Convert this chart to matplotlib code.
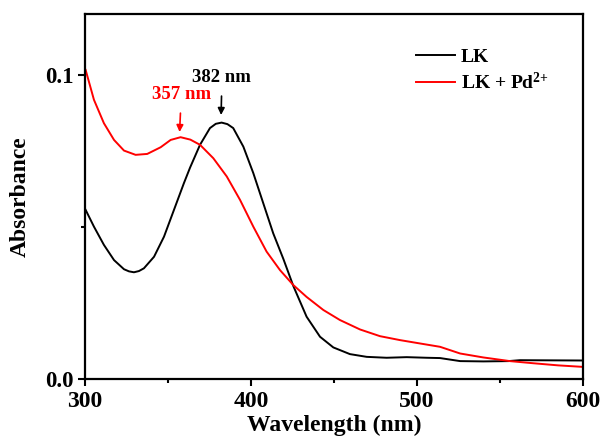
import numpy as np
import matplotlib
matplotlib.use("Agg")
import matplotlib.pyplot as plt

plt.rcParams['font.family'] = 'Liberation Serif'
plt.rcParams['font.weight'] = 'bold'
plt.rcParams['mathtext.fontset'] = 'custom'
plt.rcParams['mathtext.rm'] = 'Liberation Serif:bold'
plt.rcParams['mathtext.it'] = 'Liberation Serif:bold'
plt.rcParams['mathtext.bf'] = 'Liberation Serif:bold'

# LK (black)
wl_lk = [300.4, 305.4, 311.4, 317.5, 323.5, 326.5, 329.5, 332.5, 335.5, 341.6, 347.6,
         353.6, 359.6, 363.3, 369.3, 375.3, 378.8, 382.3, 385.8, 389.3, 395.4, 401.4,
         407.4, 413.4, 419.5, 425.5, 433.5, 441.6, 449.6, 459.6, 469.7, 481.7, 493.8,
         505.8, 513.9, 526, 540, 555, 562, 600]
abs_lk = [0.0556, 0.0501, 0.0441, 0.0391, 0.0361, 0.0354, 0.0351, 0.0355, 0.0364, 0.0402,
          0.0468, 0.0556, 0.0644, 0.0695, 0.0770, 0.0825, 0.0839, 0.0843, 0.0838, 0.0825,
          0.0764, 0.0677, 0.0578, 0.0479, 0.0395, 0.0306, 0.0205, 0.0139, 0.0104, 0.0082,
          0.0073, 0.0070, 0.0072, 0.0070, 0.0069, 0.0059, 0.0058, 0.0059, 0.0062, 0.0061]

# LK + Pd2+ (red)
wl_pd = [300.4, 305.4, 311.4, 317.5, 323.5, 330.5, 337.5, 345.6, 351.6, 357.6, 363.5,
         369.3, 377.3, 385.4, 393.4, 401.4, 409.4, 417.5, 425.5, 433.5, 443.6, 453.6,
         465.7, 477.7, 489.8, 501.8, 513.9, 526, 540, 556, 570, 585, 600]
abs_pd = [0.1016, 0.0918, 0.0841, 0.0786, 0.0751, 0.0737, 0.0740, 0.0762, 0.0786, 0.0795,
          0.0787, 0.0770, 0.0726, 0.0666, 0.0589, 0.0501, 0.0419, 0.0358, 0.0309, 0.0270,
          0.0227, 0.0194, 0.0163, 0.0141, 0.0128, 0.0117, 0.0106, 0.0084, 0.0071, 0.0059,
          0.0052, 0.0045, 0.0040]

fig = plt.figure(figsize=(6.01, 4.47), dpi=100)
ax = fig.add_axes([0.1414, 0.152, 0.8286, 0.8167])

ax.plot(wl_lk, abs_lk, color='black', lw=1.4, solid_joinstyle='round', label='LK')
ax.plot(wl_pd, abs_pd, color='red', lw=1.4, solid_joinstyle='round', label='LK + Pd$^{2{+}}$')

ax.set_xlim(300, 600)
ax.set_ylim(0, 0.12)
ax.set_xticks([300, 400, 500, 600])
ax.set_xticks([350, 450, 550], minor=True)
ax.set_yticks([0.0, 0.1])
ax.set_yticklabels(['0.0', '0.1'])
ax.set_yticks([0.05], minor=True)
ax.tick_params(axis='x', which='major', labelsize=17, width=1.5, length=5, direction='out')
ax.tick_params(axis='y', which='major', labelsize=16.5, width=1.5, length=5, direction='out')
ax.tick_params(which='minor', width=1.5, length=3, direction='out')
for s in ax.spines.values():
    s.set_linewidth(1.6)

ax.set_xlabel('Wavelength (nm)', fontsize=17, fontweight='bold', labelpad=2)
ax.set_ylabel('Absorbance', fontsize=17, fontweight='bold', labelpad=10)

ax.annotate('382 nm', xy=(382, 0.0868), xytext=(382.5, 0.0990), ha='center', va='center',
            fontsize=13.5, fontweight='bold', color='black',
            arrowprops=dict(arrowstyle='-|>', color='black', lw=1.2, shrinkA=5, shrinkB=0,
                            mutation_scale=10))
ax.annotate('357 nm', xy=(357, 0.0812), xytext=(358, 0.0934), ha='center', va='center',
            fontsize=13.5, fontweight='bold', color='red',
            arrowprops=dict(arrowstyle='-|>', color='red', lw=1.2, shrinkA=5, shrinkB=0,
                            mutation_scale=10))

leg = ax.legend(loc='upper right', bbox_to_anchor=(0.966, 0.954), frameon=False,
                handlelength=2.0, handletextpad=0.3, labelspacing=0.3,
                prop={'weight': 'bold', 'size': 14})

fig.savefig('out.png', dpi=100)
